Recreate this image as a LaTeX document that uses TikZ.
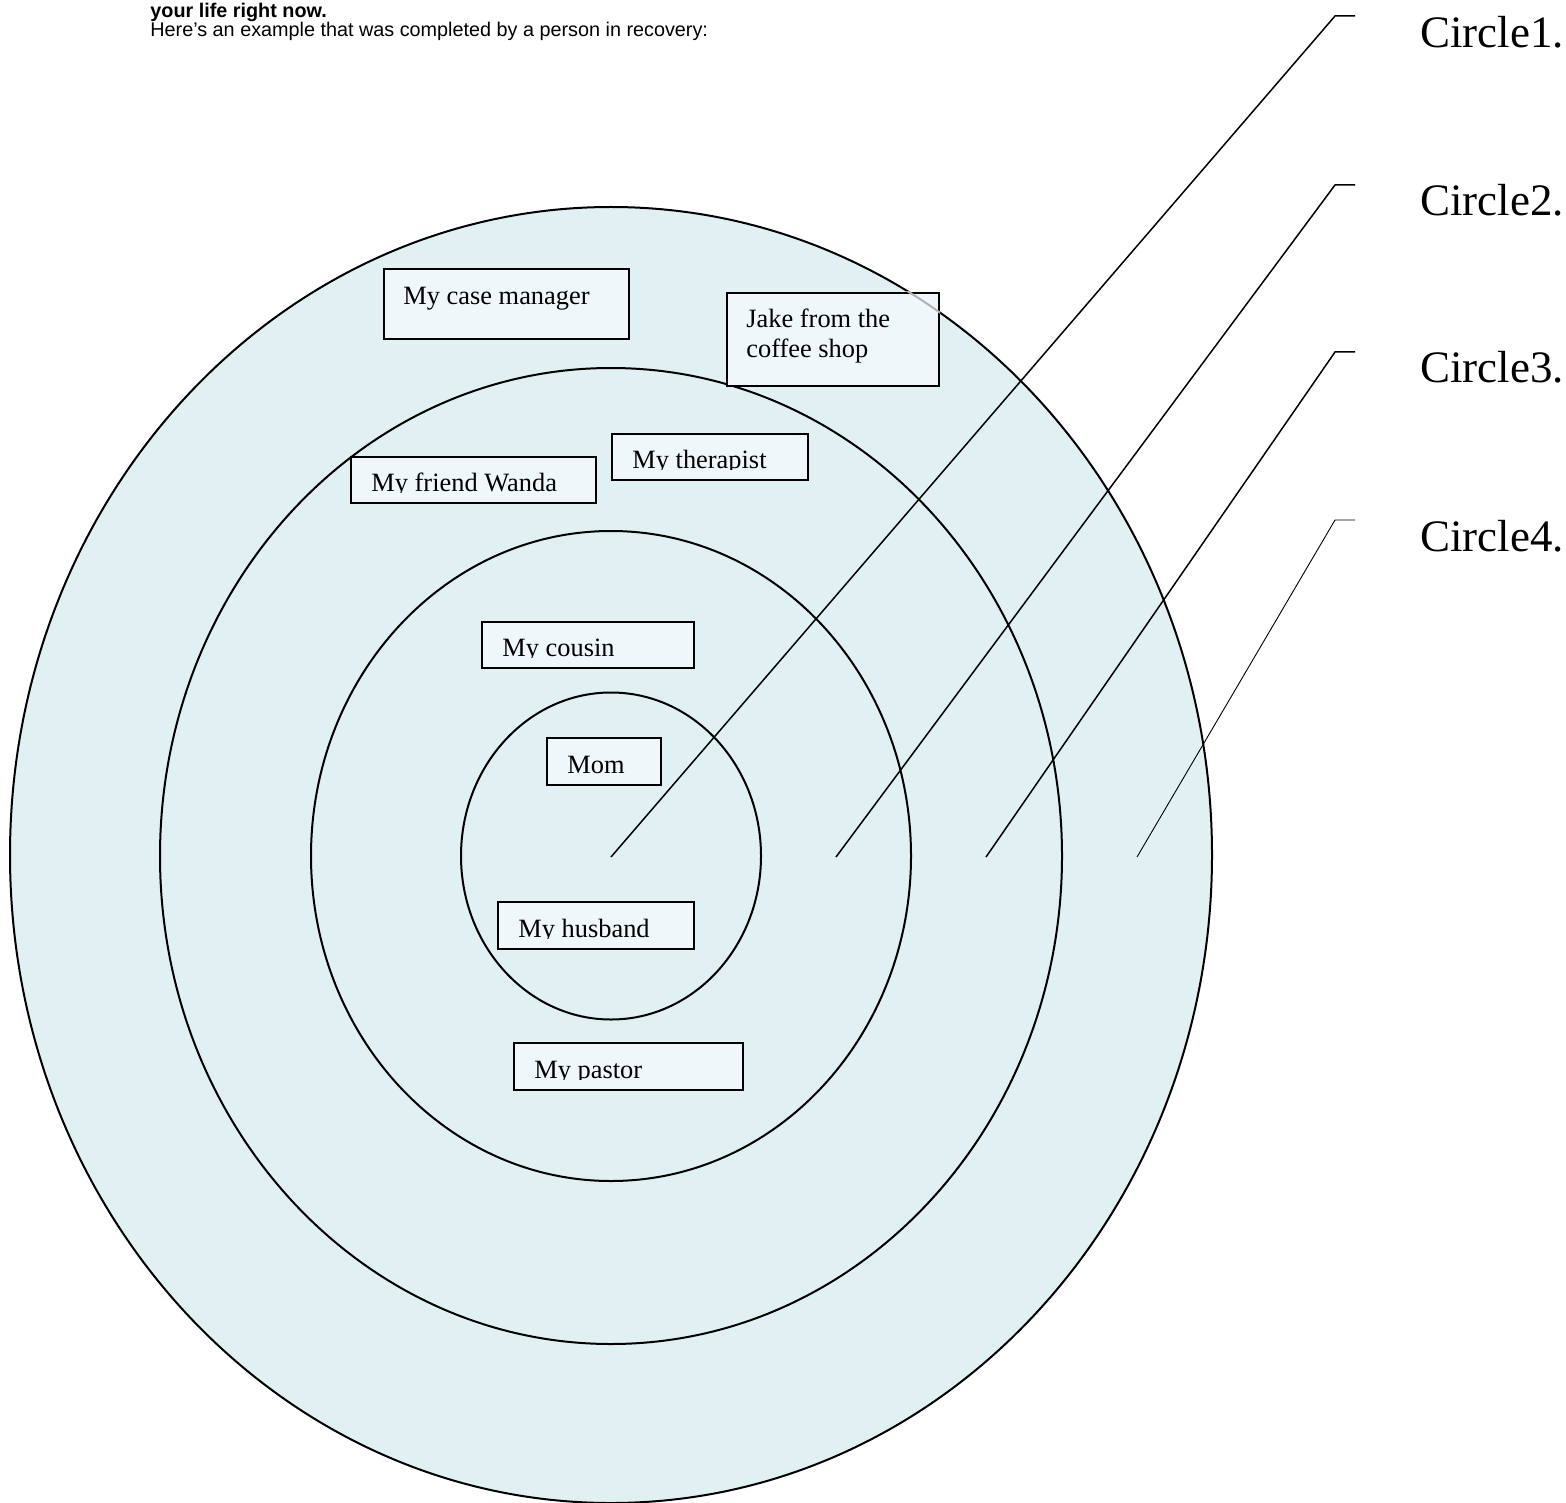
\documentclass[tikz,border=0pt]{standalone}
\usepackage{fontspec}
\setmainfont{Liberation Serif}
\newfontfamily\arialf{Liberation Sans}
\usetikzlibrary{shapes.geometric}
\definecolor{ringfill}{RGB}{224,240,243}
\definecolor{boxfill}{RGB}{239,247,250}
\begin{document}
\begin{tikzpicture}[x=0.5pt,y=-0.5pt,
  ring/.style={ellipse, draw=black, line width=1pt, fill=ringfill, inner sep=0pt, outer sep=0pt},
  pbox/.style={draw=black, line width=1pt, fill=boxfill, inner sep=0pt, anchor=north west},
  bx/.style 2 args={minimum width=#1*0.5pt, minimum height=#2*0.5pt},
  lbl/.style={inner sep=0pt, anchor=base west, font=\fontsize{13.2}{15}\selectfont},
  clab/.style={inner sep=0pt, anchor=base west, font=\fontsize{22.5}{26}\selectfont},
  hdr/.style={inner sep=0pt, anchor=base west, font=\arialf\fontsize{9.9}{11}\selectfont},
  lead/.style={line width=0.75pt},
  leadthin/.style={line width=0.45pt}]
\useasboundingbox (0,0) rectangle (1566,1502);

% header
\node[hdr, font=\arialf\bfseries\fontsize{9.9}{11}\selectfont] (h1) at (150,18) {your life right now.};
\node[hdr] (h2) at (150,37) {Here’s an example that was completed by a person in recovery:};

% rings
\node[ring, minimum width=601pt, minimum height=648pt] (c4) at (611,855) {};
\node[ring, minimum width=451pt, minimum height=488pt] (c3) at (611,856) {};
\node[ring, minimum width=300pt, minimum height=325pt] (c2) at (611,856) {};
\node[ring, minimum width=150pt, minimum height=163.5pt] (c1) at (611,856) {};

% boxes
\node[pbox, bx={245}{70}] (cm) at (383,268) {};
\node[lbl] (cmt) at (403,305) {My case manager};

\node[pbox, bx={212}{93}] (jk) at (726,292) {};
\begin{scope}
  \clip (jk.north west) rectangle (jk.south east);
  \draw[gray!60, line width=1pt] (611,855) ellipse [x radius=300.5pt, y radius=324pt];
\end{scope}
\node[lbl] (jk1) at (746,328) {Jake from the};
\node[lbl] (jk2) at (746,358) {coffee shop};

\node[pbox, bx={245}{46}] (fw) at (350,456) {};
\begin{scope}
  \clip (350,456) rectangle (595,492);
  \node[lbl] (fwt) at (371,491) {My friend Wanda};
\end{scope}

\node[pbox, bx={196}{46}] (th) at (611,433) {};
\begin{scope}
  \clip (611,433) rectangle (807,469);
  \node[lbl] (tht) at (632,468) {My therapist};
\end{scope}

\node[pbox, bx={212}{46}] (co) at (481,621) {};
\begin{scope}
  \clip (481,621) rectangle (693,657);
  \node[lbl] (cot) at (502,656) {My cousin};
\end{scope}

\node[pbox, bx={114}{47}] (mo) at (546,737) {};
\node[lbl] (mot) at (567,773) {Mom};

\node[pbox, bx={196}{47}] (hu) at (497,901) {};
\begin{scope}
  \clip (497,901) rectangle (693,938);
  \node[lbl] (hut) at (518,937) {My husband};
\end{scope}

\node[pbox, bx={229}{47}] (pa) at (513,1042) {};
\begin{scope}
  \clip (513,1042) rectangle (742,1079);
  \node[lbl] (pat) at (534,1078) {My pastor};
\end{scope}

% leaders
\coordinate (s1) at (611,857);  \coordinate (b1) at (1335,16);  \coordinate (e1) at (1355,16);
\coordinate (s2) at (836,857);  \coordinate (b2) at (1335,185); \coordinate (e2) at (1355,185);
\coordinate (s3) at (986,857);  \coordinate (b3) at (1335,352); \coordinate (e3) at (1355,352);
\coordinate (s4) at (1137,857); \coordinate (b4) at (1335,520); \coordinate (e4) at (1355,520);
\draw[lead] (s1) -- (b1) -- (e1);
\draw[lead] (s2) -- (b2) -- (e2);
\draw[lead] (s3) -- (b3) -- (e3);
\draw[leadthin] (s4) -- (b4) -- (e4);

\node[clab] (l1) at (1420,48) {Circle1.};
\node[clab] (l2) at (1420,216) {Circle2.};
\node[clab] (l3) at (1420,383) {Circle3.};
\node[clab] (l4) at (1420,551) {Circle4.};
\end{tikzpicture}
\end{document}
